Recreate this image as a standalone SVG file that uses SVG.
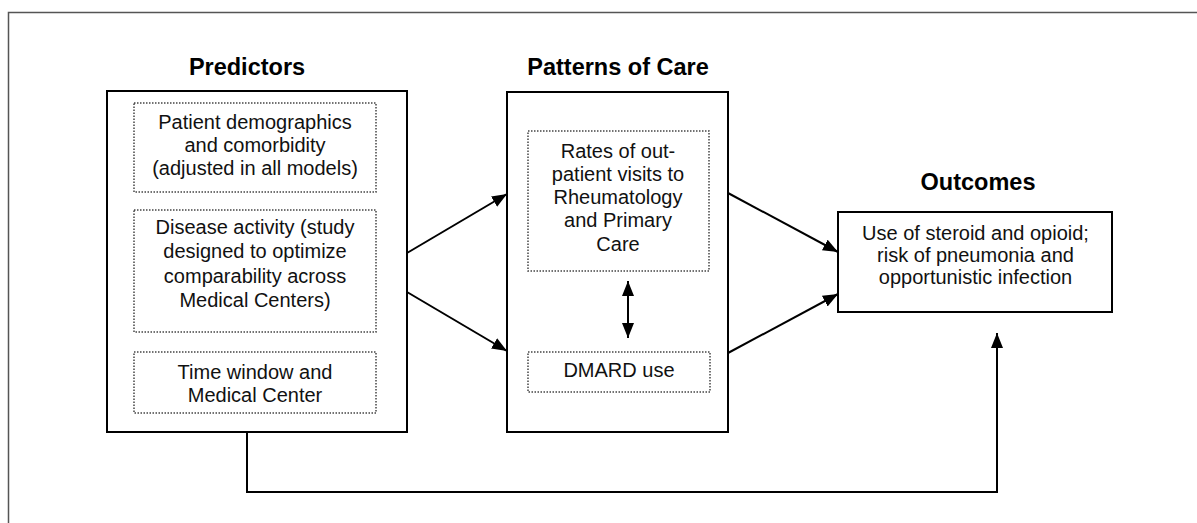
<svg xmlns="http://www.w3.org/2000/svg" width="1197" height="523" viewBox="0 0 1197 523">
<defs>
<marker id="ah" markerUnits="userSpaceOnUse" markerWidth="16" markerHeight="14" refX="15" refY="6" orient="auto-start-reverse">
<path d="M0,0 L15,6 L0,12 z" fill="#000"/>
</marker>
<style>
.box{fill:#fff;stroke:#000;stroke-width:2}
.dot{fill:none;stroke:#444;stroke-width:1.5;stroke-dasharray:1.5 1.5}
.t{font-family:"Liberation Sans",Arial,sans-serif;font-size:20px;fill:#111;text-anchor:middle}
.h{font-family:"Liberation Sans",Arial,sans-serif;font-size:23.5px;font-weight:bold;fill:#000;text-anchor:middle}
.c{fill:none;stroke:#000;stroke-width:2}
</style>
</defs>
<rect width="1197" height="523" fill="#fff"/>
<path d="M8.5,523 V12.5 H1197" fill="none" stroke="#555" stroke-width="1.5"/>

<g id="predictors">
<text class="h" x="247" y="75">Predictors</text>
<rect class="box" x="107" y="91" width="300" height="341"/>
</g>
<g id="demographics">
<rect class="dot" x="134" y="103" width="242" height="89"/>
<text class="t" x="255" y="129">Patient demographics</text>
<text class="t" x="255" y="152">and comorbidity</text>
<text class="t" x="255" y="175">(adjusted in all models)</text>
</g>
<g id="disease">
<rect class="dot" x="134" y="210" width="242" height="122"/>
<text class="t" x="255" y="234">Disease activity (study</text>
<text class="t" x="255" y="258">designed to optimize</text>
<text class="t" x="255" y="283">comparability across</text>
<text class="t" x="255" y="307">Medical Centers)</text>
</g>
<g id="timewindow">
<rect class="dot" x="134" y="352" width="242" height="61"/>
<text class="t" x="255" y="379">Time window and</text>
<text class="t" x="255" y="402">Medical Center</text>
</g>

<g id="patterns">
<text class="h" x="618" y="75">Patterns of Care</text>
<rect class="box" x="507" y="92" width="221" height="340"/>
</g>
<g id="rates">
<rect class="dot" x="528" y="131" width="181" height="140"/>
<text class="t" x="618" y="158">Rates of out-</text>
<text class="t" x="618" y="181">patient visits to</text>
<text class="t" x="618" y="204">Rheumatology</text>
<text class="t" x="618" y="227">and Primary</text>
<text class="t" x="618" y="251">Care</text>
</g>
<g id="dmard">
<rect class="dot" x="528" y="352" width="182" height="40"/>
<text class="t" x="619" y="377">DMARD use</text>
</g>

<g id="outcomes">
<text class="h" x="978" y="190">Outcomes</text>
<rect class="box" x="838" y="212" width="274" height="100"/>
<text class="t" x="975.5" y="240">Use of steroid and opioid;</text>
<text class="t" x="975.5" y="262">risk of pneumonia and</text>
<text class="t" x="975.5" y="284">opportunistic infection</text>
</g>

<g id="connectors">
<path class="c" d="M407,253 L507,194" marker-end="url(#ah)"/>
<path class="c" d="M407,292 L507,351" marker-end="url(#ah)"/>
<path class="c" d="M728,193 L838,252" marker-end="url(#ah)"/>
<path class="c" d="M728,353 L838,294" marker-end="url(#ah)"/>
<path class="c" d="M247,432 V492 H997 V333" marker-end="url(#ah)"/>
<path class="c" d="M628,281 V338" marker-start="url(#ah)" marker-end="url(#ah)"/>
</g>
</svg>
